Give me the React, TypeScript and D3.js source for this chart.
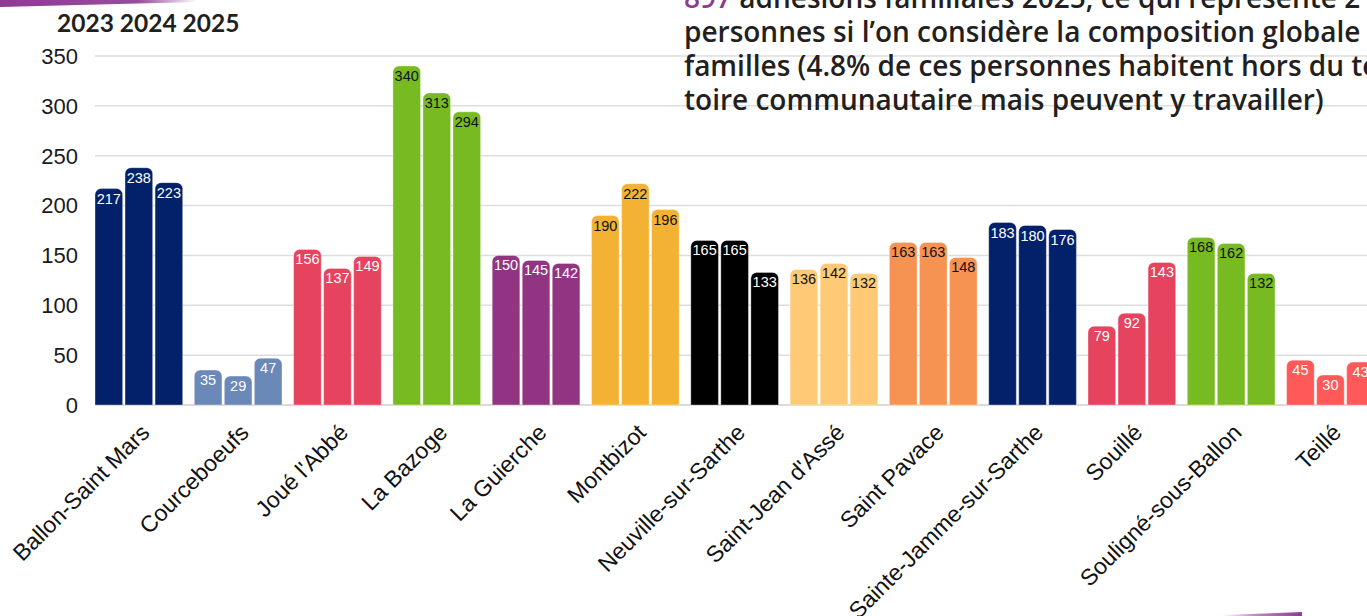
import React from "react";
import * as d3 from "d3";

const categories = [
  "Ballon-Saint Mars",
  "Courceboeufs",
  "Joué l'Abbé",
  "La Bazoge",
  "La Guierche",
  "Montbizot",
  "Neuville-sur-Sarthe",
  "Saint-Jean d'Assé",
  "Saint Pavace",
  "Sainte-Jamme-sur-Sarthe",
  "Souillé",
  "Souligné-sous-Ballon",
  "Teillé",
];
const years = ["2023", "2024", "2025"];
const values2023 = [217, 35, 156, 340, 150, 190, 165, 136, 163, 183, 79, 168, 45];
const values2024 = [238, 29, 137, 313, 145, 222, 165, 142, 163, 180, 92, 162, 30];
const values2025 = [223, 47, 149, 294, 142, 196, 133, 132, 148, 176, 143, 132, 43];
const yTicks = [0, 50, 100, 150, 200, 250, 300, 350];

const barColors = [
  "#03216a",
  "#6a89b9",
  "#e6435f",
  "#77ba22",
  "#913583",
  "#f4b235",
  "#000000",
  "#ffc976",
  "#f69252",
  "#03216a",
  "#e6435f",
  "#77ba22",
  "#ff5959",
];
const labelColors = [
  "#ffffff",
  "#ffffff",
  "#ffffff",
  "#111111",
  "#ffffff",
  "#111111",
  "#ffffff",
  "#111111",
  "#111111",
  "#ffffff",
  "#ffffff",
  "#111111",
  "#ffffff",
];

const W = 1367;
const H = 616;

function topRounded(x: number, y: number, w: number, h: number, r: number) {
  const rr = Math.min(r, w / 2, h);
  const p = d3.path();
  p.moveTo(x, y + h);
  p.lineTo(x, y + rr);
  p.arcTo(x, y, x + rr, y, rr);
  p.lineTo(x + w - rr, y);
  p.arcTo(x + w, y, x + w, y + rr, rr);
  p.lineTo(x + w, y + h);
  p.closePath();
  return p.toString();
}

export default function App() {
  const series = [values2023, values2024, values2025];
  const x = d3
    .scaleBand<string>()
    .domain(categories)
    .range([89.2, 1380.1])
    .paddingInner(0.117)
    .paddingOuter(0.0585);
  const xi = d3
    .scaleBand<string>()
    .domain(years)
    .range([0, x.bandwidth()])
    .paddingInner(0.08)
    .paddingOuter(0);
  const y = d3.scaleLinear().domain([0, 350]).range([405, 56]);

  const fontArial = "'Liberation Sans', Arial, sans-serif";
  const fontLegend = "Lato, 'Open Sans', sans-serif";
  const fontText = "'Open Sans', Lato, sans-serif";

  return (
    <svg
      width={W}
      height={H}
      style={{ position: "absolute", left: 0, top: 0, background: "#fff" }}
    >
      <defs>
        <linearGradient id="swooshTL" x1="0" x2="1" y1="0" y2="0">
          <stop offset="0" stopColor="#8e3a93" />
          <stop offset="0.7" stopColor="#9a4a9e" />
          <stop offset="1" stopColor="#8e3a93" stopOpacity="0" />
        </linearGradient>
        <linearGradient id="swooshBR" x1="0" x2="1" y1="0" y2="0">
          <stop offset="0" stopColor="#8e3a93" stopOpacity="0" />
          <stop offset="0.5" stopColor="#a35aa6" stopOpacity="0.8" />
          <stop offset="1" stopColor="#8e3a93" />
        </linearGradient>
      </defs>

      {/* decorative swooshes */}
      <polygon points="0,0 197,0 197,2 0,7" fill="url(#swooshTL)" />
      <polygon points="1222,615 1302,612 1302,616 1222,616" fill="url(#swooshBR)" />

      {/* gridlines */}
      {yTicks.map((t) => (
        <line
          key={"g" + t}
          x1={95}
          x2={W}
          y1={y(t)}
          y2={y(t)}
          stroke={t === 0 ? "#cfcfcf" : "#dedede"}
          strokeWidth={1.5}
        />
      ))}

      {/* y tick labels */}
      {yTicks.map((t) => (
        <text
          key={"t" + t}
          x={78}
          y={y(t)}
          dy="0.36em"
          textAnchor="end"
          fontFamily={fontArial}
          fontSize={22}
          fill="#1a1a1a"
        >
          {t}
        </text>
      ))}

      {/* bars */}
      {categories.map((c, ci) => (
        <g key={c} transform={`translate(${x(c)},0)`}>
          {years.map((yr, si) => {
            const v = series[si][ci];
            const bx = xi(yr) as number;
            const bw = xi.bandwidth();
            const top = y(v);
            return (
              <g key={yr}>
                <path
                  d={topRounded(bx, top, bw, y(0) - top, 6)}
                  fill={barColors[ci]}
                  stroke="rgba(255,255,255,0.35)"
                  strokeWidth={1}
                />
                <text
                  x={bx + bw / 2}
                  y={top + 15}
                  textAnchor="middle"
                  fontFamily={fontArial}
                  fontSize={14.5}
                  fill={labelColors[ci]}
                >
                  {v}
                </text>
              </g>
            );
          })}
        </g>
      ))}

      {/* x labels */}
      {categories.map((c) => {
        const cx = (x(c) as number) + x.bandwidth() / 2 + 12;
        const cy = 434;
        return (
          <text
            key={"x" + c}
            transform={`translate(${cx},${cy}) rotate(-45)`}
            textAnchor="end"
            fontFamily={fontArial}
            fontSize={23}
            fill="#111"
          >
            {c}
          </text>
        );
      })}

      {/* legend years */}
      <text
        x={57}
        y={32}
        fontFamily={fontLegend}
        fontWeight={700}
        fontSize={24.5}
        fill="#231f20"
      >
        {years.join(" ")}
      </text>

      {/* annotation text */}
      <g fontFamily={fontText} fontWeight={600} fontSize={28} fill="#231f20">
        <text x={684} y={8}>
          <tspan fill="#8e3a93">897</tspan> adhésions familiales 2025, ce qui représente 2
        </text>
        <text x={684} y={42}>
          personnes si l’on considère la composition globale des
        </text>
        <text x={684} y={76}>
          familles (4.8% de ces personnes habitent hors du terri-
        </text>
        <text x={684} y={110}>
          toire communautaire mais peuvent y travailler)
        </text>
      </g>
    </svg>
  );
}
